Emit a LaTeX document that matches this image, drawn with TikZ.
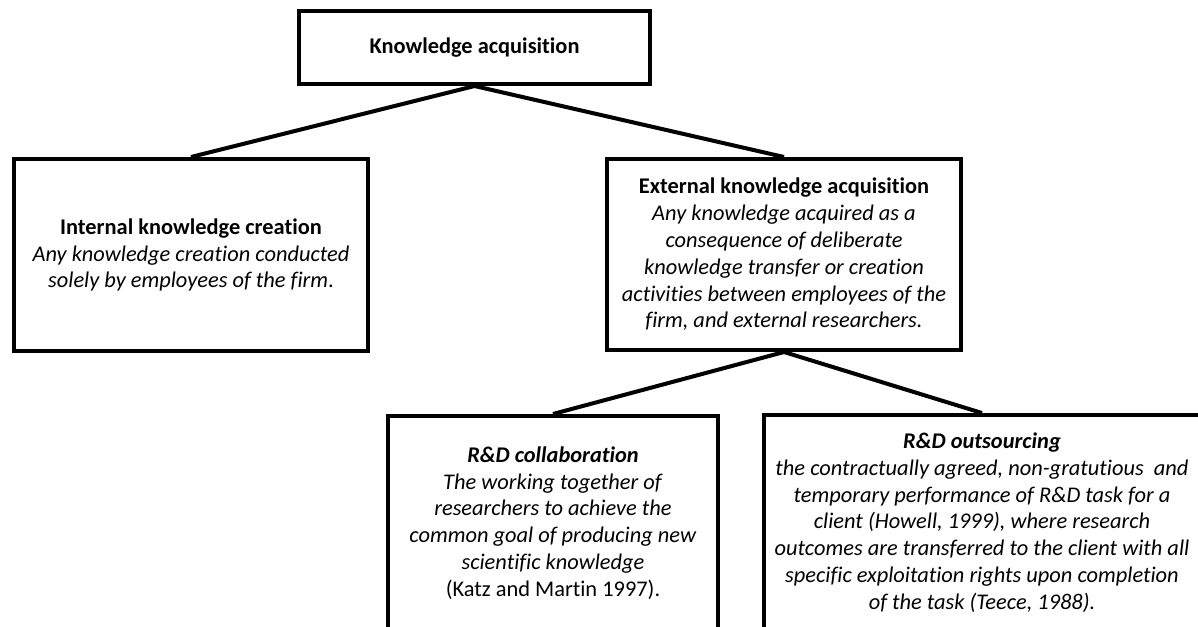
\documentclass[tikz,border=0pt]{standalone}
\usepackage{fontspec}
\setmainfont{Carlito}[RawFeature={-liga}]
\begin{document}
\begin{tikzpicture}[x=1pt,y=-1pt,
  box/.style={draw=black, line width=4pt, fill=white, inner sep=0pt,
    align=center, font=\fontsize{22.4}{26.8}\selectfont},
  conn/.style={draw=black, line width=4pt}]
\useasboundingbox (0,0) rectangle (1198,626);
\clip (0,0) rectangle (1198,626);

\node[box, minimum width=351pt, minimum height=73pt] (top) at (474.5,47.5)
  {\textbf{Knowledge acquisition}};

\node[box, minimum width=354pt, minimum height=192pt] (int) at (191,255)
  {\textbf{Internal knowledge creation}\\
   \textit{Any knowledge creation conducted}\\
   \textit{solely by employees of the firm}.};

\node[box, minimum width=354pt, minimum height=191pt] (ext) at (784,254.5)
  {\textbf{External knowledge acquisition}\\
   \textit{Any knowledge acquired as a}\\
   \textit{consequence of deliberate}\\
   \textit{knowledge transfer or creation}\\
   \textit{activities between employees of the}\\
   \textit{firm, and external researchers.}};

\node[box, minimum width=330pt, minimum height=214pt] (col) at (553,523)
  {\textbf{\textit{R\&D collaboration}}\\
   \textit{The working together of}\\
   \textit{researchers to achieve the}\\
   \textit{common goal of producing new}\\
   \textit{scientific knowledge}\\
   (Katz and Martin 1997).};

\node[box, minimum width=436pt, minimum height=215pt] (out) at (982,522.5)
  {\textbf{\textit{R\&D outsourcing}}\\
   \textit{the contractually agreed, non-gratutious\ \ and}\\
   \textit{temporary performance of R\&D task for a}\\
   \textit{client (Howell, 1999), where research}\\
   \textit{outcomes are transferred to the client with all}\\
   \textit{specific exploitation rights upon completion}\\
   \textit{of the task (Teece, 1988).}};

% tree connectors between parent and child boxes
\draw[conn] (top.south) -- (int.north);
\draw[conn] (top.south) -- (ext.north);
\draw[conn] (ext.south) -- (col.north);
\draw[conn] (ext.south) -- (out.north);
\end{tikzpicture}
\end{document}
